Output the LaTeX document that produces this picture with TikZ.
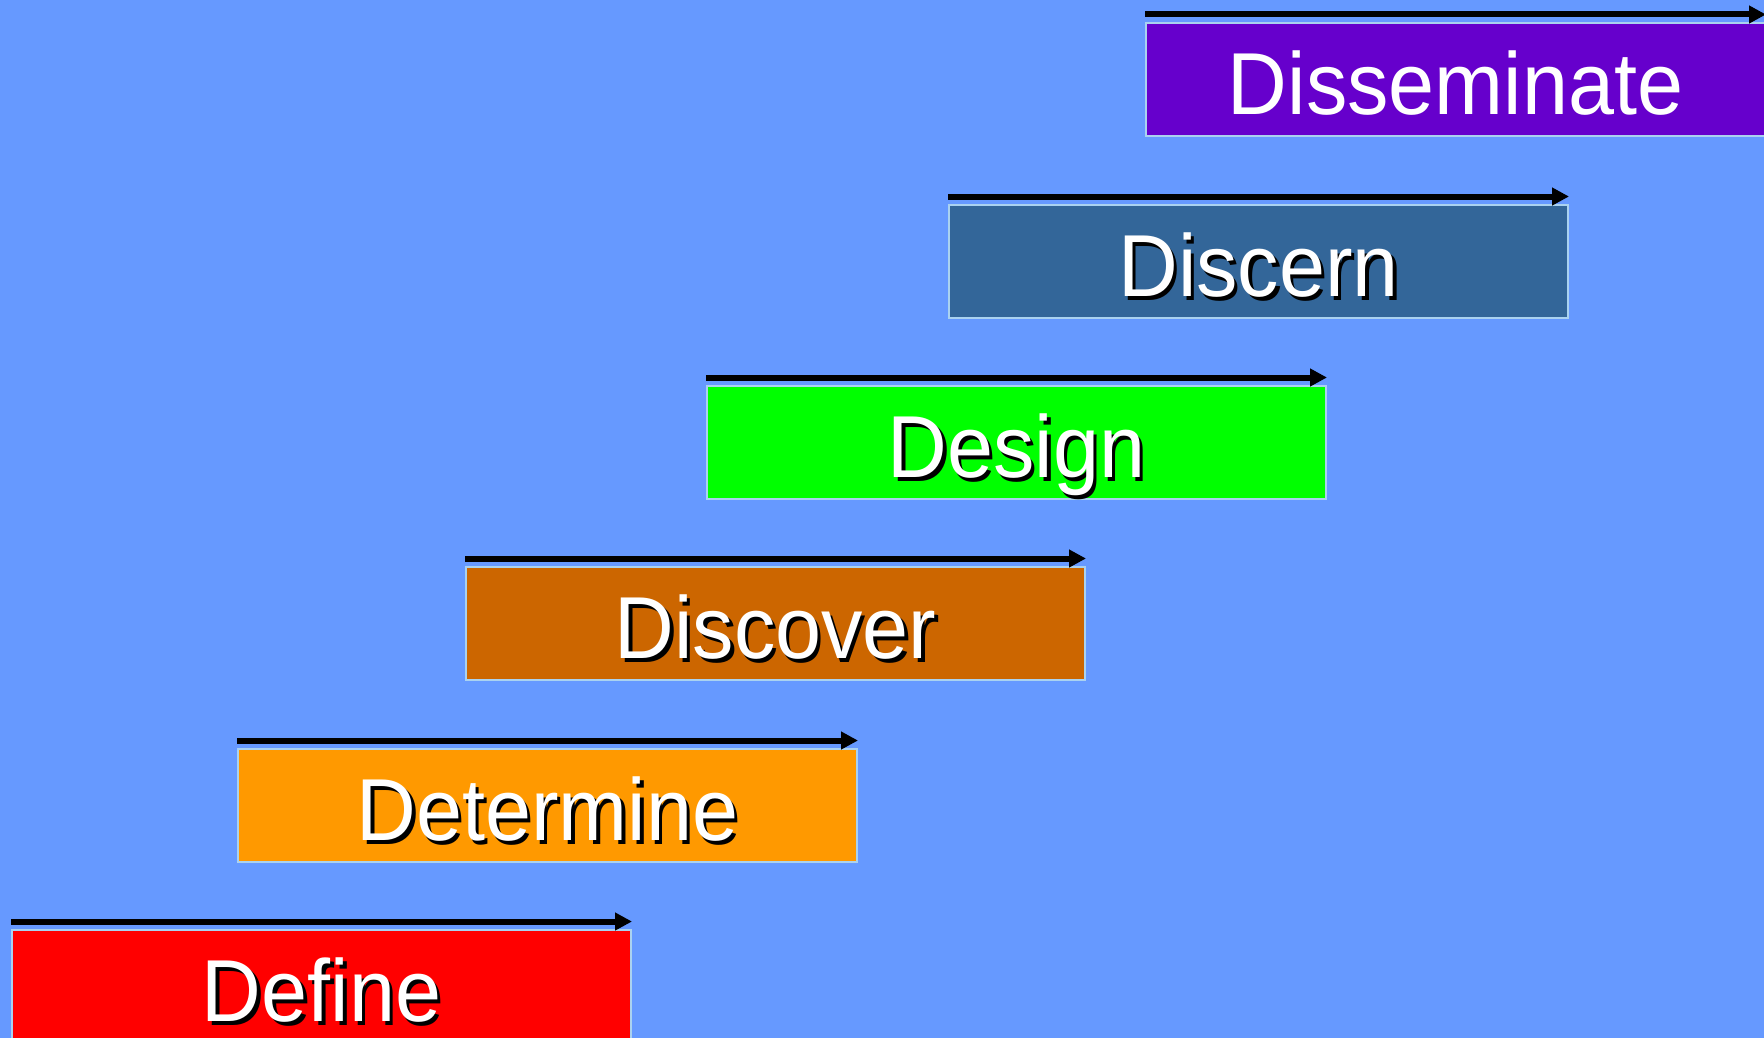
\documentclass[tikz,border=0pt]{standalone}
\usepackage{fontspec}
\setmainfont{Liberation Sans}[FakeStretch=0.94]
\usetikzlibrary{arrows.meta}
\definecolor{bgblue}{HTML}{6699FF}
\definecolor{edgecol}{RGB}{170,210,240}
\definecolor{cDiss}{HTML}{6600CC}
\definecolor{cDiscern}{HTML}{336699}
\definecolor{cDesign}{HTML}{00FF00}
\definecolor{cDiscover}{HTML}{CC6600}
\definecolor{cDeterm}{HTML}{FF9900}
\definecolor{cDefine}{HTML}{FF0000}
\newcommand\shtext[1]{\rlap{\kern3.5pt\raisebox{-3.5pt}{\color{black}#1}}#1}
\tikzset{
  phasebox/.style={draw=edgecol, line width=2pt, anchor=north west,
    minimum width=619pt, minimum height=113pt, inner sep=0pt,
    text=white, font=\fontsize{88}{100}\selectfont, text height=70pt, text depth=0pt},
  phasearrow/.style={line width=6pt, -{Triangle[length=17pt,width=17pt]}, shorten >=0pt}
}
\begin{document}
\begin{tikzpicture}
\fill[bgblue] (0pt,0pt) rectangle (1764pt,-1038pt);
\useasboundingbox (0pt,0pt) rectangle (1764pt,-1038pt);
\clip (0pt,0pt) rectangle (1764pt,-1038pt);
\node[phasebox, fill=cDiss] (diss) at (1145pt,-22pt) {Disseminate};
\node[phasebox, fill=cDiscern] (discern) at (948pt,-204pt) {\shtext{Discern}};
\node[phasebox, fill=cDesign] (design) at (706pt,-385pt) {\shtext{Design}};
\node[phasebox, fill=cDiscover] (discover) at (465pt,-566pt) {\shtext{Discover}};
\node[phasebox, fill=cDeterm] (determ) at (237pt,-748pt) {\shtext{Determine}};
\node[phasebox, fill=cDefine] (define) at (11pt,-929pt) {\shtext{Define}};
\foreach \b in {diss,discern,design,discover,determ,define}{
  \draw[phasearrow] ([yshift=7.5pt]\b.north west) -- ([yshift=7.5pt]\b.north east);
}
\end{tikzpicture}
\end{document}
